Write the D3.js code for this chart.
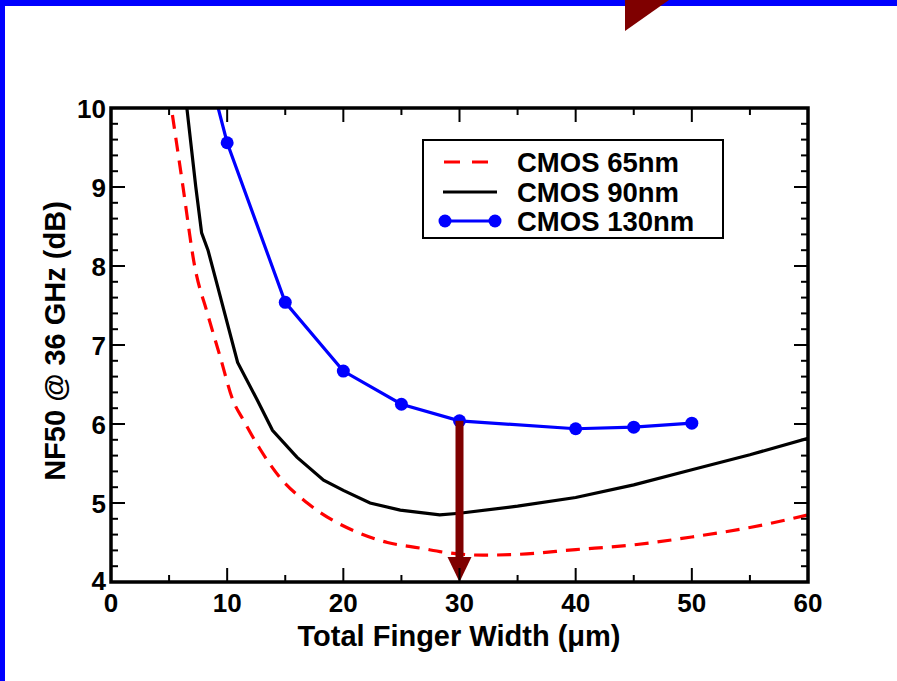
<!DOCTYPE html>
<html>
<head>
<meta charset="utf-8">
<script src="https://cdn.jsdelivr.net/npm/d3@7"></script>
<style>
  html, body { margin: 0; padding: 0; background: #fff; }
  svg { display: block; }
  text { font-family: "Liberation Sans", Arial, Helvetica, sans-serif; font-weight: bold; fill: #000; }
</style>
</head>
<body>
<script>
// Noise figure (NF50 @ 36 GHz) versus total finger width for three CMOS nodes
const widths65 = [5.0, 6.2, 7.2, 8.3, 9.4, 10.5, 11.4, 12.8, 14.5, 16.9, 19.1, 21.2, 23.8, 26.6, 29, 32, 35, 40, 45, 50, 55, 60];
const nf65     = [10.2, 9.0, 8.0, 7.4, 6.85, 6.3, 6.05, 5.69, 5.33, 5.0, 4.78, 4.63, 4.5, 4.43, 4.37, 4.34, 4.35, 4.41, 4.47, 4.57, 4.69, 4.85];

const widths90 = [6.3, 7.3, 7.8, 8.35, 9.2, 10.9, 12.6, 13.9, 16, 18.3, 20, 22.3, 24.9, 28.3, 30, 35, 40, 45, 50, 55, 60];
const nf90     = [10.3, 9.0, 8.42, 8.2, 7.73, 6.78, 6.30, 5.92, 5.58, 5.29, 5.16, 5.0, 4.91, 4.85, 4.87, 4.96, 5.07, 5.23, 5.42, 5.61, 5.82];

const widths130 = [5, 10, 15, 20, 25, 30, 40, 45, 50];
const nf130     = [12.4, 9.56, 7.54, 6.67, 6.25, 6.04, 5.94, 5.96, 6.01];

const seriesNames = ["CMOS 65nm", "CMOS 90nm", "CMOS 130nm"];
const xTickValues = [0, 10, 20, 30, 40, 50, 60];
const yTickValues = [4, 5, 6, 7, 8, 9, 10];
const optimumWidth = 30;   // width marked by the arrow

const W = 897, H = 681;
const plot = { left: 111, right: 808, top: 108, bottom: 582 };

const svg = d3.select("body").append("svg").attr("width", W).attr("height", H);

const x = d3.scaleLinear().domain([0, 60]).range([plot.left, plot.right]);
const y = d3.scaleLinear().domain([4, 10]).range([plot.bottom, plot.top]);

// slide frame
svg.append("rect").attr("x", 0).attr("y", 0).attr("width", W).attr("height", 6).attr("fill", "#0000ff");
svg.append("rect").attr("x", 0).attr("y", 0).attr("width", 5).attr("height", H).attr("fill", "#0000ff");
svg.append("path").attr("d", "M625,31 L625,0 L669,0 Z").attr("fill", "#7f0000");

svg.append("clipPath").attr("id", "plotclip")
  .append("rect").attr("x", plot.left).attr("y", plot.top)
  .attr("width", plot.right - plot.left).attr("height", plot.bottom - plot.top);

const data = s => s[0].map((w, i) => [w, s[1][i]]);
const line = d3.line().x(d => x(d[0])).y(d => y(d[1]));
const g = svg.append("g").attr("clip-path", "url(#plotclip)");

g.append("path").datum(data([widths65, nf65]))
  .attr("d", line.curve(d3.curveMonotoneX))
  .attr("fill", "none").attr("stroke", "#ff0000").attr("stroke-width", 3.2)
  .attr("stroke-dasharray", "14,9");

g.append("path").datum(data([widths90, nf90]))
  .attr("d", line.curve(d3.curveLinear))
  .attr("fill", "none").attr("stroke", "#000").attr("stroke-width", 3.2);

const blue = data([widths130, nf130]);
g.append("path").datum(blue)
  .attr("d", line.curve(d3.curveLinear))
  .attr("fill", "none").attr("stroke", "#0000ff").attr("stroke-width", 3.2);
g.selectAll("circle.m").data(blue).join("circle")
  .attr("cx", d => x(d[0])).attr("cy", d => y(d[1])).attr("r", 6.5)
  .attr("fill", "#0000ff");

// arrow from the 130nm optimum down to the axis
const arrowTop = y(nf130[widths130.indexOf(optimumWidth)]);
const ax = x(optimumWidth), tip = y(4);
svg.append("rect").attr("x", ax - 4).attr("y", arrowTop).attr("width", 8).attr("height", tip - 24 - arrowTop)
  .attr("fill", "#7f0000");
svg.append("path").attr("d", `M${ax - 12},${tip - 25} L${ax + 12},${tip - 25} L${ax},${tip} Z`).attr("fill", "#7f0000");

// ticks (inward, mirrored on all four sides)
const ticks = svg.append("g").attr("stroke", "#000").attr("stroke-width", 2);
const xMinor = d3.range(0, 61, 5);
xMinor.forEach(v => {
  const len = v % 10 === 0 ? 14 : 7;
  ticks.append("line").attr("x1", x(v)).attr("x2", x(v)).attr("y1", plot.bottom).attr("y2", plot.bottom - len);
  ticks.append("line").attr("x1", x(v)).attr("x2", x(v)).attr("y1", plot.top).attr("y2", plot.top + len);
});
const yMinor = d3.range(0, 31).map(i => 4 + i * 0.2);
yMinor.forEach((v, i) => {
  const len = i % 5 === 0 ? 14 : 7;
  ticks.append("line").attr("y1", y(v)).attr("y2", y(v)).attr("x1", plot.left).attr("x2", plot.left + len);
  ticks.append("line").attr("y1", y(v)).attr("y2", y(v)).attr("x1", plot.right).attr("x2", plot.right - len);
});

// frame
svg.append("rect").attr("x", plot.left).attr("y", plot.top)
  .attr("width", plot.right - plot.left).attr("height", plot.bottom - plot.top)
  .attr("fill", "none").attr("stroke", "#000").attr("stroke-width", 3.5);

// tick labels
svg.append("g").selectAll("text").data(xTickValues).join("text")
  .attr("x", d => x(d)).attr("y", 612).attr("text-anchor", "middle")
  .style("font-size", "26px").text(d => d);
svg.append("g").selectAll("text").data(yTickValues).join("text")
  .attr("x", 106).attr("y", d => y(d) + (d === 4 ? 8 : 10)).attr("text-anchor", "end")
  .style("font-size", "26px").text(d => d);

// axis titles
svg.append("text").attr("x", 459).attr("y", 646).attr("text-anchor", "middle")
  .style("font-size", "29px").text("Total Finger Width (\u03bcm)");
svg.append("text").attr("transform", "translate(65,341) rotate(-90)").attr("text-anchor", "middle")
  .style("font-size", "29px").text("NF50 @ 36 GHz (dB)");

// legend
const lg = svg.append("g");
lg.append("rect").attr("x", 423).attr("y", 140).attr("width", 300).attr("height", 98)
  .attr("fill", "#fff").attr("stroke", "#000").attr("stroke-width", 2);
const rowsY = [162, 192, 221];
lg.append("line").attr("x1", 444).attr("x2", 490).attr("y1", rowsY[0]).attr("y2", rowsY[0])
  .attr("stroke", "#ff0000").attr("stroke-width", 3).attr("stroke-dasharray", "16,12");
lg.append("line").attr("x1", 443).attr("x2", 497).attr("y1", rowsY[1]).attr("y2", rowsY[1])
  .attr("stroke", "#000").attr("stroke-width", 3);
lg.append("line").attr("x1", 445).attr("x2", 495).attr("y1", rowsY[2]).attr("y2", rowsY[2])
  .attr("stroke", "#0000ff").attr("stroke-width", 3);
[445, 495].forEach(cx => lg.append("circle").attr("cx", cx).attr("cy", rowsY[2]).attr("r", 6.5).attr("fill", "#0000ff"));
lg.selectAll("text").data(seriesNames).join("text")
  .attr("x", 517).attr("y", (d, i) => rowsY[i] + 10)
  .style("font-size", "27.5px").text(d => d);
</script>
</body>
</html>
